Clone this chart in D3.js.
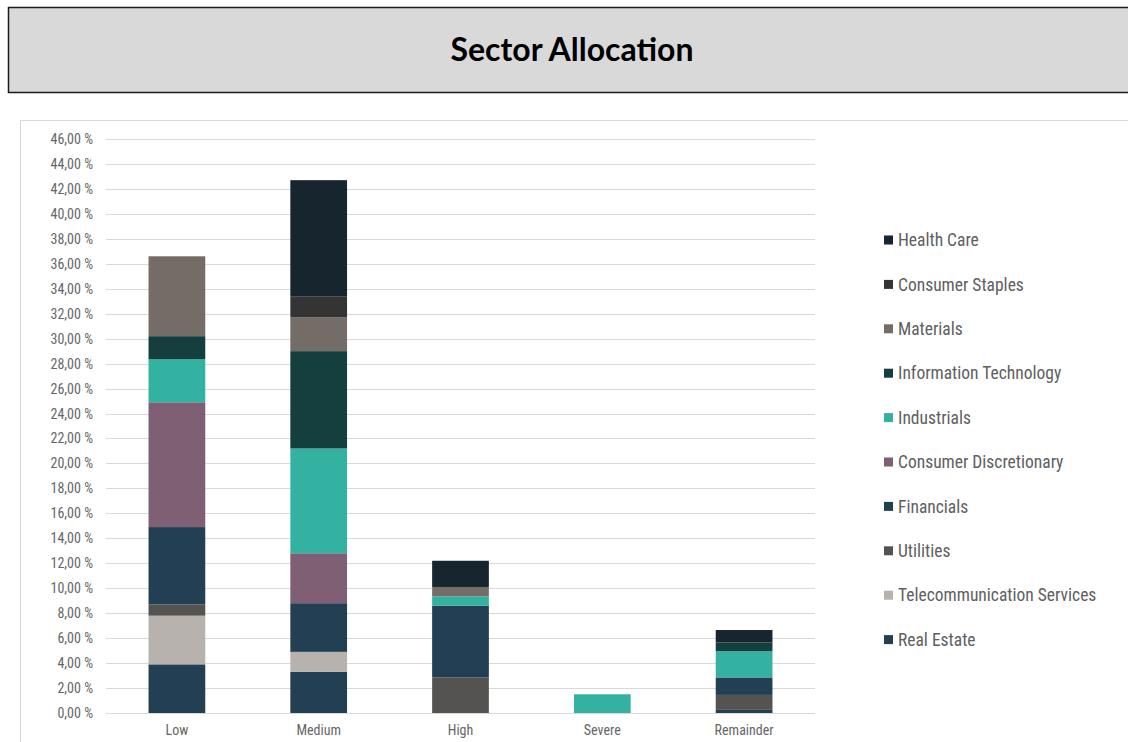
<!DOCTYPE html>
<html>
<head>
<meta charset="utf-8">
<script src="https://cdn.jsdelivr.net/npm/d3@7/dist/d3.min.js"></script>
<style>
  html, body { margin: 0; padding: 0; background: #ffffff; }
  svg { display: block; }
</style>
</head>
<body>
<svg id="chart" width="1128" height="742"></svg>
<script>
// ---- Data ----
const categories = ["Low", "Medium", "High", "Severe", "Remainder"];
// Sectors in stacking order (bottom -> top)
const sectors = ["Real Estate", "Telecommunication Services", "Utilities", "Financials",
  "Consumer Discretionary", "Industrials", "Information Technology", "Materials",
  "Consumer Staples", "Health Care"];
const realEstate        = [3.9, 3.3, 0.0, 0.0, 0.25];
const telecom           = [3.9, 1.6, 0.0, 0.0, 0.0];
const utilities         = [0.9, 0.0, 2.85, 0.0, 1.2];
const financials        = [6.2, 3.9, 5.75, 0.0, 1.4];
const consumerDisc      = [10.0, 4.0, 0.0, 0.0, 0.0];
const industrials       = [3.45, 8.4, 0.75, 1.5, 2.1];
const infoTech          = [1.85, 7.8, 0.0, 0.0, 0.7];
const materials         = [6.4, 2.7, 0.75, 0.0, 0.0];
const consumerStaples   = [0.0, 1.7, 0.0, 0.0, 0.0];
const healthCare        = [0.0, 9.3, 2.1, 0.0, 1.0];
const seriesValues = [realEstate, telecom, utilities, financials, consumerDisc,
  industrials, infoTech, materials, consumerStaples, healthCare];
const colors = ["#223f53", "#b8b2ae", "#555352", "#223f53", "#7f5f73",
  "#33b1a1", "#143f3e", "#736c67", "#343434", "#17252f"];
const yTicks = d3.range(0, 47, 2);
const title = "Sector Allocation";

// ---- Build table ----
const table = categories.map((c, i) => {
  const row = { category: c };
  sectors.forEach((s, j) => { row[s] = seriesValues[j][i]; });
  return row;
});
const stacked = d3.stack().keys(sectors)(table);

const svg = d3.select("#chart");
const labelFont = "'Liberation Sans Narrow', 'Arial Narrow', 'Roboto Condensed', 'Liberation Sans', sans-serif";

// Title box
svg.append("rect").attr("x", 8.5).attr("y", 7.5).attr("width", 1130).attr("height", 85)
  .attr("fill", "#d9d9d9").attr("stroke", "#1a1a1a").attr("stroke-width", 1.5);
svg.append("text").attr("x", 572).attr("y", 61).attr("text-anchor", "middle")
  .attr("font-family", "Lato, 'Open Sans', sans-serif").attr("font-weight", "bold")
  .attr("font-size", 32).attr("fill", "#000").text(title);

// Chart frame
svg.append("rect").attr("x", 20.5).attr("y", 120.5).attr("width", 1120).attr("height", 640)
  .attr("fill", "#fff").attr("stroke", "#d9d9d9").attr("stroke-width", 1);

// Scales
const x = d3.scaleBand().domain(categories).range([106, 815]).paddingInner(0.6).paddingOuter(0.3);
const y = d3.scaleLinear().domain([0, 46]).range([713, 139]);

// Grid
const grid = svg.append("g");
grid.selectAll("line").data(yTicks).join("line")
  .attr("x1", 106).attr("x2", 815)
  .attr("y1", d => Math.round(y(d)) + 0.5).attr("y2", d => Math.round(y(d)) + 0.5)
  .attr("stroke", "#d9d9d9").attr("stroke-width", 1.2);

// Y axis labels
const yAxis = d3.axisLeft(y).tickValues(yTicks).tickSize(0).tickPadding(0)
  .tickFormat(d => d3.format(".2f")(d).replace(".", ",") + " %");
const yg = svg.append("g").attr("transform", "translate(93,0)").call(yAxis);
yg.select(".domain").remove();
yg.selectAll("text").attr("font-family", labelFont).attr("font-size", 14).attr("fill", "#666666");

// Bars
svg.append("g").selectAll("g").data(stacked).join("g")
  .attr("fill", (d, i) => colors[i])
  .selectAll("rect").data(d => d).join("rect")
  .attr("x", d => x(d.data.category))
  .attr("width", x.bandwidth())
  .attr("y", d => y(d[1]))
  .attr("height", d => Math.max(0, y(d[0]) - y(d[1])));

// X axis
const xAxis = d3.axisBottom(x).tickSize(0).tickPadding(0);
const xg = svg.append("g").attr("transform", "translate(0,725)").call(xAxis);
xg.select(".domain").remove();
xg.selectAll("text").attr("font-family", labelFont).attr("font-size", 14).attr("fill", "#666666")
  .attr("dy", "0.71em");

// Legend (reverse order)
const legendItems = sectors.map((s, i) => ({ name: s, color: colors[i] })).reverse();
const lg = svg.append("g").selectAll("g").data(legendItems).join("g")
  .attr("transform", (d, i) => `translate(884,${240 + i * 44.4})`);
lg.append("rect").attr("x", 0).attr("y", -4.5).attr("width", 9).attr("height", 9)
  .attr("fill", d => d.color);
lg.append("text").attr("x", 14).attr("y", 0).attr("dy", "0.35em")
  .attr("font-family", labelFont).attr("font-size", 17.5).attr("fill", "#606060")
  .text(d => d.name);
</script>
</body>
</html>
